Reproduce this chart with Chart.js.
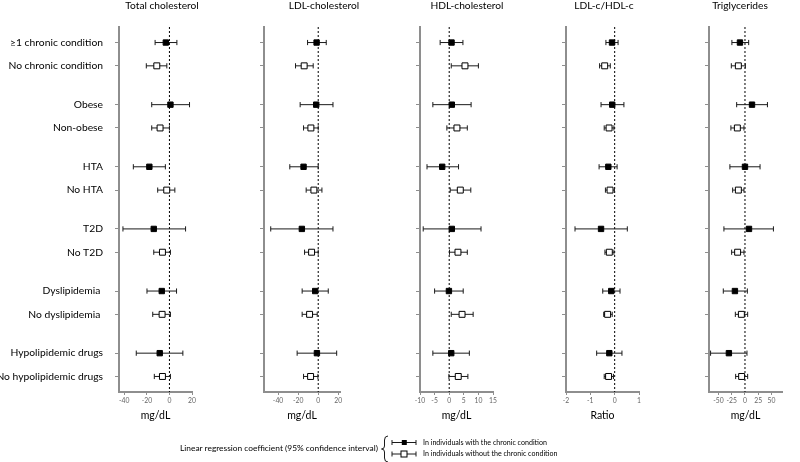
<!DOCTYPE html>
<html lang="en">
<head>
    <meta charset="UTF-8">
    <title>Linear regression coefficients by chronic condition</title>
    <style>
        body { margin: 0; background: #fff; font-family: Lato, "Open Sans", sans-serif; color: #000; }
        #wrap { position: relative; width: 800px; height: 462px; overflow: hidden; }
        .panel { position: absolute; top: 0; }
        .title { position: absolute; top: -1px; font-size: 10.2px; transform: translateX(-50%); white-space: nowrap; }
        .leg { position: absolute; white-space: nowrap; line-height: 1; }
        svg { position: absolute; left: 0; top: 0; }
    </style>
</head>
<body>
<div id="wrap">
    <canvas class="panel" id="tc" width="210" height="430" style="left:0px"></canvas>
    <canvas class="panel" id="ldl" width="120" height="430" style="left:240px"></canvas>
    <canvas class="panel" id="hdl" width="120" height="430" style="left:396px"></canvas>
    <canvas class="panel" id="ratio" width="120" height="430" style="left:542px"></canvas>
    <canvas class="panel" id="tg" width="115" height="430" style="left:685px"></canvas>

    <div class="title" style="left:162px">Total cholesterol</div>
    <div class="title" style="left:324px">LDL-cholesterol</div>
    <div class="title" style="left:467px">HDL-cholesterol</div>
    <div class="title" style="left:604px">LDL-c/HDL-c</div>
    <div class="title" style="left:740px">Triglycerides</div>

    <svg width="800" height="462">
        <g fill="none" stroke="#1a1a1a" stroke-width="1">
            <path d="M388,436 Q384.5,436 384.5,440 L384.5,446 Q384.5,449 381.5,449 Q384.5,449 384.5,452 L384.5,458 Q384.5,462 388,462"/>
            <path d="M392,442.5 H416 M392,440 V445 M416,440 V445"/>
            <path d="M392,454 H416 M392,451.5 V456.5 M416,451.5 V456.5"/>
        </g>
        <rect x="401.8" y="440" width="5" height="5" fill="#000"/>
        <rect x="401" y="451" width="6" height="6" fill="#fff" stroke="#000" stroke-width="1"/>
    </svg>
    <div class="leg" style="left:180px; top:444px; font-size:8.4px">Linear regression coefficient (95% confidence interval)</div>
    <div class="leg" style="left:423px; top:438.5px; font-size:7.1px">In individuals with the chronic condition</div>
    <div class="leg" style="left:423px; top:450px; font-size:7.1px">In individuals without the chronic condition</div>
</div>

<script src="https://cdn.jsdelivr.net/npm/chart.js"></script>
<script>
    // 類別（每組：有慢性病 / 無慢性病）
    const CATEGORIES = ['≥1 chronic condition', 'No chronic condition', 'Obese', 'Non-obese', 'HTA', 'No HTA',
        'T2D', 'No T2D', 'Dyslipidemia ', 'No dyslipidemia ', 'Hypolipidemic drugs', 'No hypolipidemic drugs'];

    // Total cholesterol (mg/dL)
    const TC_EST = [-3.2, -11.2, 0.9, -8.3, -17.8, -2.4, -13.9, -6.2, -6.8, -6.5, -8.6, -6.2];
    const TC_LO = [-12.7, -20.5, -15.7, -15.7, -32, -10.4, -41.2, -13.9, -19.9, -14.8, -29.4, -13.4];
    const TC_HI = [6.6, -2.3, 17.8, 0, -3.6, 4.8, 14.3, 0.9, 6.3, 0.9, 11.9, 0.9];
    const TC_TICKS = [-40, -20, 0, 20];

    // LDL-cholesterol (mg/dL)
    const LDL_EST = [-1.6, -14, -2, -7.3, -14.6, -4.3, -16.3, -6.6, -3, -8.6, -1.3, -7.6];
    const LDL_LO = [-10.6, -22.6, -18, -14.6, -28.3, -12, -47.3, -13.6, -16, -16, -21, -14.6];
    const LDL_HI = [8, -5, 14.7, 0, 0, 3.7, 14.7, 0, 10, -1, 18.4, -0.3];
    const LDL_TICKS = [-40, -20, 0, 20];

    // HDL-cholesterol (mg/dL)
    const HDL_EST = [0.8, 5.4, 0.9, 2.65, -2.4, 3.8, 0.9, 3, -0.1, 4.4, 0.7, 3.1];
    const HDL_LO = [-3.1, 0.7, -5.6, -0.8, -7.6, 0.35, -8.9, 0.1, -5, 0.7, -5.6, -0.1];
    const HDL_HI = [4.7, 10, 7.5, 6.2, 3.2, 7.4, 10.9, 6.2, 4.8, 8.2, 6.9, 6.4];
    const HDL_TICKS = [-10, -5, 0, 5, 10, 15];

    // LDL-c/HDL-c (ratio)
    const RATIO_EST = [-0.11, -0.41, -0.1, -0.23, -0.26, -0.19, -0.56, -0.22, -0.14, -0.29, -0.22, -0.25];
    const RATIO_LO = [-0.36, -0.62, -0.56, -0.43, -0.64, -0.38, -1.63, -0.4, -0.49, -0.45, -0.74, -0.43];
    const RATIO_HI = [0.14, -0.18, 0.38, -0.03, 0.1, -0.01, 0.52, -0.03, 0.22, -0.1, 0.3, -0.05];
    const RATIO_TICKS = [-2, -1, 0, 1];

    // Triglycerides (mg/dL)
    const TG_EST = [-9.5, -12.5, 13.3, -14.4, 0, -12.5, 7.6, -13.9, -19, -6.8, -30.4, -6.3];
    const TG_LO = [-24.7, -25.8, -15.7, -26.6, -28.5, -23.3, -39.8, -25.2, -41, -18.2, -65, -17.6];
    const TG_HI = [7, 0.8, 42.5, -1.9, 28.5, -1.9, 53.8, -1.9, 4.5, 5.1, 3.8, 5.1];
    const TG_TICKS = [-50, -25, 0, 25, 50];

    const AXIS_GREY = '#8e8e8e';
    const INK = '#1a1a1a';

    // 每組兩列相隔 3，組與組相隔 8
    const rowPos = i => Math.floor(i / 2) * 8 + (i % 2) * 3;

    function makePanel(id, est, lo, hi, tickVals, cfg) {
        const errorBars = est.map((_, i) => ({
            type: 'line',
            showLine: true,
            data: [{x: lo[i], y: rowPos(i)}, {x: hi[i], y: rowPos(i)}],
            borderColor: INK,
            borderWidth: 1,
            pointStyle: 'line',
            pointRotation: 90,
            pointRadius: 2.6,
            pointBorderColor: INK,
            pointBorderWidth: 1,
            order: 1
        }));

        const withCond = est.map((v, i) => ({x: v, y: rowPos(i)})).filter((_, i) => i % 2 === 0);
        const withoutCond = est.map((v, i) => ({x: v, y: rowPos(i)})).filter((_, i) => i % 2 === 1);

        new Chart(document.getElementById(id), {
            type: 'scatter',
            data: {
                datasets: [
                    {
                        data: withCond, pointStyle: 'rect', pointRadius: 3.8,
                        backgroundColor: '#000', borderColor: '#000', borderWidth: 1, order: 0
                    },
                    {
                        data: withoutCond, pointStyle: 'rect', pointRadius: 4.2,
                        backgroundColor: '#fff', borderColor: '#000', borderWidth: 1, order: 0
                    },
                    ...errorBars,
                    {
                        type: 'line', showLine: true,
                        data: [{x: 0, y: -2}, {x: 0, y: 45}],
                        borderColor: '#000', borderWidth: 1, borderDash: [2, 2], pointRadius: 0, order: 2
                    }
                ]
            },
            options: {
                responsive: false,
                animation: false,
                events: [],
                layout: {padding: {top: 27, right: cfg.padRight, left: 0, bottom: 0}},
                plugins: {legend: {display: false}, tooltip: {enabled: false}},
                scales: {
                    x: {
                        type: 'linear',
                        min: cfg.min,
                        max: cfg.max,
                        afterBuildTicks: s => { s.ticks = tickVals.map(v => ({value: v})); },
                        afterFit: s => { s.height = 38; },
                        ticks: {font: {family: 'Lato', size: 6.8}, color: '#666', padding: 2, autoSkip: false, maxRotation: 0},
                        grid: {drawOnChartArea: false, tickLength: 3, color: AXIS_GREY},
                        border: {color: AXIS_GREY, width: 2},
                        title: {
                            display: true, text: cfg.unit, color: '#000',
                            font: {family: 'Lato', size: 10.5}, padding: {top: 4, bottom: 7.7}
                        }
                    },
                    y: {
                        type: 'linear',
                        reverse: true,
                        min: -2,
                        max: 45,
                        afterBuildTicks: s => { s.ticks = CATEGORIES.map((_, i) => ({value: rowPos(i)})); },
                        afterFit: s => { s.width = cfg.yWidth; },
                        ticks: {
                            callback: (v, i) => cfg.labels ? CATEGORIES[i] : '',
                            font: {family: 'Lato', size: 10.3}, color: '#000', padding: 12, autoSkip: false
                        },
                        grid: {drawOnChartArea: false, tickLength: 4, color: AXIS_GREY},
                        border: {color: AXIS_GREY, width: 2}
                    }
                }
            }
        });
    }

    makePanel('tc', TC_EST, TC_LO, TC_HI, TC_TICKS, {min: -44.7, max: 20, unit: 'mg/dL', yWidth: 119, padRight: 18, labels: true});
    makePanel('ldl', LDL_EST, LDL_LO, LDL_HI, LDL_TICKS, {min: -54, max: 21.7, unit: 'mg/dL', yWidth: 24, padRight: 20, labels: false});
    makePanel('hdl', HDL_EST, HDL_LO, HDL_HI, HDL_TICKS, {min: -10, max: 15, unit: 'mg/dL', yWidth: 24, padRight: 23, labels: false});
    makePanel('ratio', RATIO_EST, RATIO_LO, RATIO_HI, RATIO_TICKS, {min: -2, max: 1, unit: 'Ratio', yWidth: 24, padRight: 23, labels: false});
    makePanel('tg', TG_EST, TG_LO, TG_HI, TG_TICKS, {min: -68, max: 70, unit: 'mg/dL', yWidth: 24, padRight: 18, labels: false});
</script>
</body>
</html>
